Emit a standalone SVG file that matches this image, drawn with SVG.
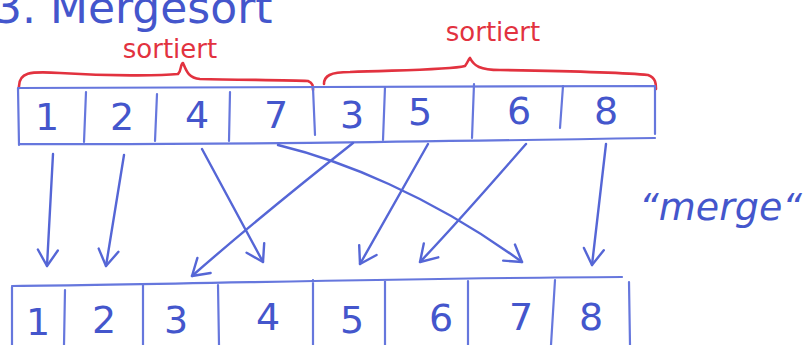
<svg xmlns="http://www.w3.org/2000/svg" width="807" height="345" viewBox="0 0 807 345">
  <style>
    .ink { fill: none; stroke: #5566d6; stroke-width: 2.4; stroke-linecap: round; stroke-linejoin: round; }
    .box { fill: none; stroke: #6677dd; stroke-width: 2.2; stroke-linecap: round; }
    .brace { fill: none; stroke: #e2323f; stroke-width: 2.6; stroke-linecap: round; stroke-linejoin: round; }
    .num { font-family: "DejaVu Sans", "Liberation Sans", sans-serif; font-size: 38px; fill: #4456cc; text-anchor: middle; }
    .title { font-family: "DejaVu Sans", "Liberation Sans", sans-serif; font-size: 44px; fill: #4456cc; }
    .note { font-family: "DejaVu Sans", "Liberation Sans", sans-serif; font-size: 38px; fill: #4456cc; font-style: italic; }
    .red { font-family: "DejaVu Sans", "Liberation Sans", sans-serif; font-size: 26px; fill: #e2323f; text-anchor: middle; }
  </style>
  <defs>
    <marker id="vhead" markerUnits="userSpaceOnUse" markerWidth="30" markerHeight="30" refX="20" refY="12" orient="auto">
      <path d="M4,2 L20,12 L4,22" fill="none" stroke="#5566d6" stroke-width="2.4" stroke-linecap="round" stroke-linejoin="round"/>
    </marker>
  </defs>

  <rect width="807" height="345" fill="#ffffff"/>

  <!-- heading, running off the top edge -->
  <text class="title" x="-6" y="23">3. Mergesort</text>

  <!-- braces over the two sorted halves -->
  <g id="brace-left">
    <path class="brace" d="M19,88 C18,72 30,71 60,73 C110,76 160,76 178,74 C182,70 180,64 183,63 C186,70 188,78 200,79 C240,80 290,80 308,81 C313,83 313,86 313,90"/>
    <text class="red" x="170" y="58">sortiert</text>
  </g>
  <g id="brace-right">
    <path class="brace" d="M324,84 C324,76 330,72 350,72 C400,70 450,70 465,66 C468,62 468,60 470,58 C474,66 480,70 500,70 C560,71 620,72 648,75 C656,78 656,84 656,89"/>
    <text class="red" x="493" y="41">sortiert</text>
  </g>

  <!-- input array: two sorted runs -->
  <g id="array-in">
    <path class="box" d="M18,88 C200,87 400,85 655,86 M19,144 C200,145 400,142 655,138 M18,88 L19,145 M655,86 L655,134"/>
    <path class="box" d="M86,92 L84,142 M157,94 L155,141 M230,92 L229,141 M313,88 L315,135 M385,87 L383,140 M474,84 L472,138 M563,86 L560,128"/>
    <text class="num" x="47" y="130">1</text>
    <text class="num" x="122" y="130">2</text>
    <text class="num" x="197" y="128">4</text>
    <text class="num" x="276" y="128">7</text>
    <text class="num" x="352" y="128">3</text>
    <text class="num" x="420" y="125">5</text>
    <text class="num" x="519" y="124">6</text>
    <text class="num" x="606" y="124">8</text>
  </g>

  <!-- merged output array -->
  <g id="array-out">
    <path class="box" d="M12,286 C200,284 400,278 622,277 M12,346 L12,287 M629,282 L630,345 M65,290 L64,345 M143,285 L143,345 M218,285 L219,345 M313,280 L313,345 M385,280 L385,345 M468,281 L468,345 M555,280 L551,345"/>
    <text class="num" x="38" y="335">1</text>
    <text class="num" x="104" y="333">2</text>
    <text class="num" x="176" y="333">3</text>
    <text class="num" x="268" y="330">4</text>
    <text class="num" x="352" y="333">5</text>
    <text class="num" x="441" y="331">6</text>
    <text class="num" x="521" y="330">7</text>
    <text class="num" x="591" y="330">8</text>
  </g>

  <!-- merge step: each element moves to its final slot -->
  <g id="connectors">
    <path class="ink" d="M53,154 L47,266" marker-end="url(#vhead)"/>
    <path class="ink" d="M124,155 L106,266" marker-end="url(#vhead)"/>
    <path class="ink" d="M202,149 L263,262" marker-end="url(#vhead)"/>
    <path class="ink" d="M278,145 C340,160 430,195 522,262" marker-end="url(#vhead)"/>
    <path class="ink" d="M353,143 C300,185 250,225 192,276" marker-end="url(#vhead)"/>
    <path class="ink" d="M428,144 L360,264" marker-end="url(#vhead)"/>
    <path class="ink" d="M526,144 C490,185 460,220 420,262" marker-end="url(#vhead)"/>
    <path class="ink" d="M606,144 L592,265" marker-end="url(#vhead)"/>
  </g>

  <text class="note" x="802" y="220" text-anchor="end">“merge“</text>
</svg>
